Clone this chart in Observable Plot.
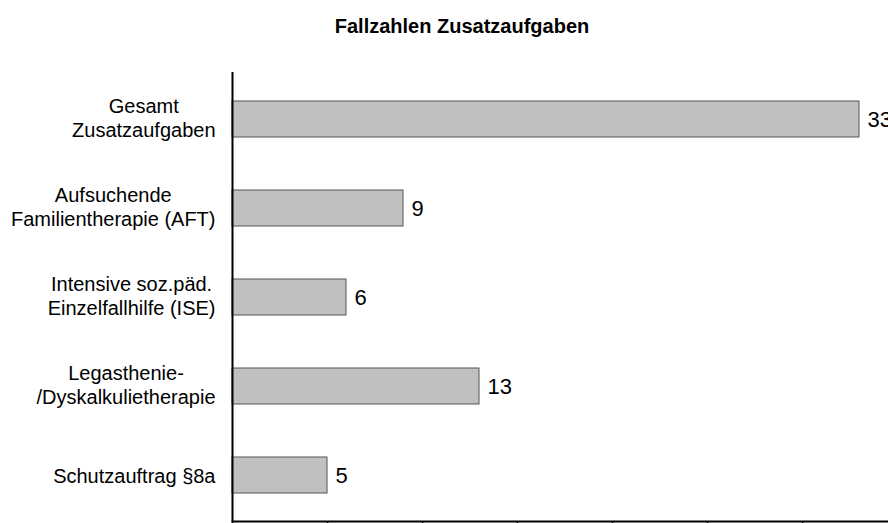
<!DOCTYPE html>
<html>
<head>
<meta charset="utf-8">
<script src="https://cdn.jsdelivr.net/npm/d3@7"></script>
<script src="https://cdn.jsdelivr.net/npm/@observablehq/plot@0.6"></script>
<style>
  html, body { margin: 0; padding: 0; background: #fff; width: 888px; height: 523px; overflow: hidden; }
  #title { position: relative; width: 888px; height: 40px; font-family: "Liberation Sans", Arial, sans-serif; }
  #title span { position: absolute; left: 462px; top: 15px; transform: translateX(-50%); font-weight: bold; font-size: 20px; line-height: normal; white-space: nowrap; color: #000; }
  #chart { width: 888px; overflow: hidden; }
  #chart svg { display: block; max-width: none !important; }
</style>
</head>
<body>
<div id="title"><span>Fallzahlen Zusatzaufgaben</span></div>
<div id="chart"></div>
<script>
const titleText = "Fallzahlen Zusatzaufgaben";
const categories = [
  "Gesamt\nZusatzaufgaben",
  "Aufsuchende\nFamilientherapie (AFT)",
  "Intensive soz.päd.\nEinzelfallhilfe (ISE)",
  "Legasthenie-\n/Dyskalkulietherapie",
  "Schutzauftrag §8a"
];
const values = [33, 9, 6, 13, 5];
const xTicks = [0, 5, 10, 15, 20, 25, 30, 35];

const data = categories.map((c, i) => ({label: c, value: values[i]}));

const FONT = "'Liberation Sans', Arial, sans-serif";
const labelSize = 20;
const ctx = document.createElement("canvas").getContext("2d");
ctx.font = `${labelSize}px ${FONT}`;
const blockWidth = s => Math.max(...s.split("\n").map(l => ctx.measureText(l).width));

const labelMarks = categories.map(c => Plot.text([c], {
  y: d => d,
  frameAnchor: "left",
  textAnchor: "middle",
  lineAnchor: "middle",
  lineHeight: 1.17,
  dx: -(17 + blockWidth(c) / 2),
  dy: c.includes("\n") ? -2 : 0,
  fontSize: labelSize,
  fill: "#000"
}));

const chart = Plot.plot({
  width: 897,
  height: 490,
  marginLeft: 232,
  marginRight: 0,
  marginTop: 32,
  marginBottom: 9,
  style: {fontFamily: FONT, background: "#fff", color: "#000", maxWidth: "none"},
  x: {domain: [0, 35], axis: null},
  y: {domain: categories, paddingInner: 0.6, paddingOuter: 0.3, axis: null},
  marks: [
    Plot.barX(data, {x: "value", y: "label", fill: "#c0c0c0", stroke: "#555", strokeWidth: 1}),
    Plot.text(data, {x: "value", y: "label", text: d => String(d.value), textAnchor: "start", dx: 8, fontSize: 22, fill: "#000"}),
    ...labelMarks,
    Plot.ruleX([0], {stroke: "#000", strokeWidth: 2}),
    Plot.frame({anchor: "bottom", stroke: "#000", strokeWidth: 2}),
    Plot.axisX({ticks: xTicks, tickSize: 8, tickFormat: () => "", stroke: "#000", strokeWidth: 1.5, label: null})
  ]
});
document.getElementById("chart").appendChild(chart);
</script>
</body>
</html>
